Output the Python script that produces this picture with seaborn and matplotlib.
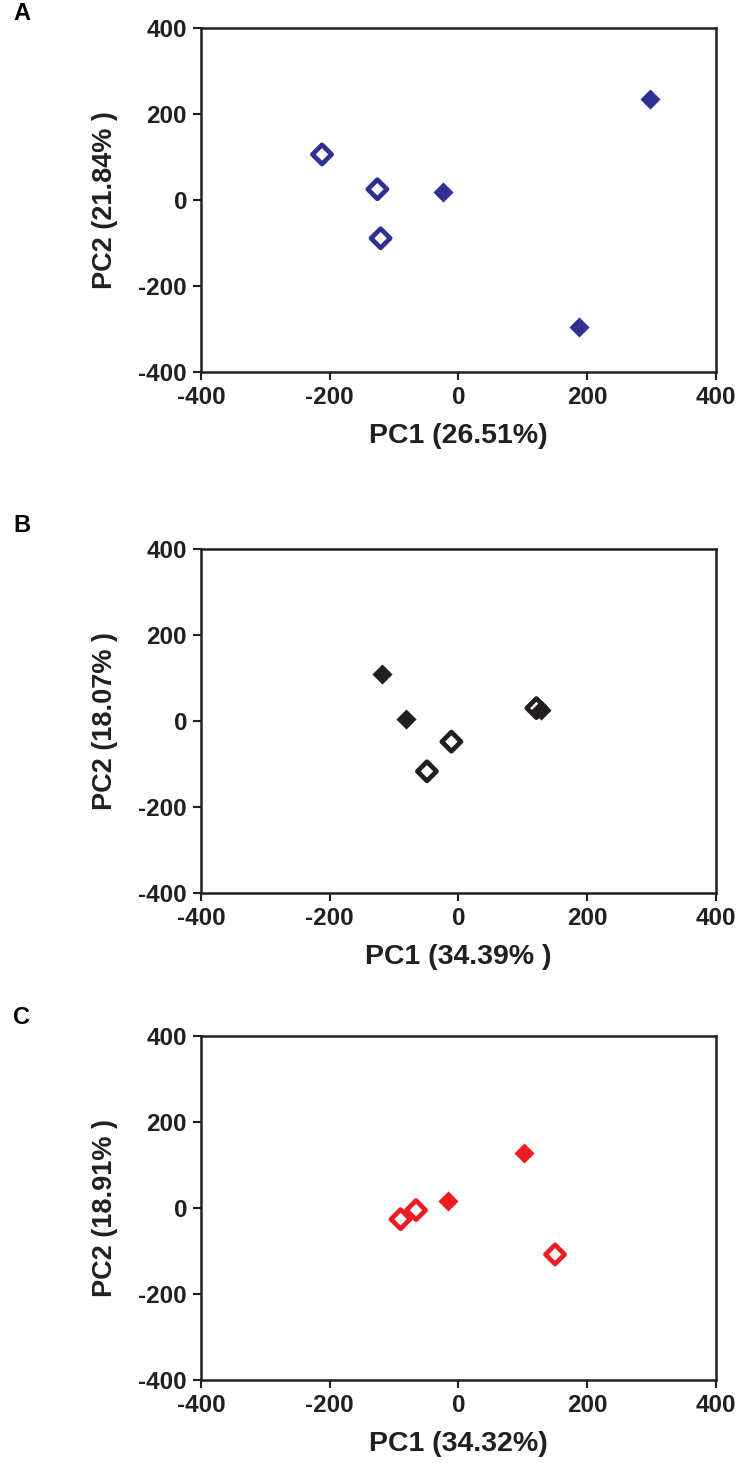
import matplotlib
matplotlib.use("Agg")
import matplotlib.pyplot as plt
import seaborn as sns
import pandas as pd

# panel A - blue
a_filled_pc1 = [-24, 298, 187]
a_filled_pc2 = [18, 236, -295]
a_open_pc1 = [-212, -126, -121]
a_open_pc2 = [106, 25, -89]

# panel B - black
b_filled_pc1 = [-119, -82, 128]
b_filled_pc2 = [109, 4, 26]
b_open_pc1 = [-11, -49, 121]
b_open_pc2 = [-48, -117, 30]

# panel C - red
c_filled_pc1 = [101, -17]
c_filled_pc2 = [128, 16]
c_open_pc1 = [-90, -66, 150]
c_open_pc2 = [-26, -5, -108]

panel_letters = ["A", "B", "C"]
xlabels = ["PC1 (26.51%)", "PC1 (34.39% )", "PC1 (34.32%)"]
ylabels = ["PC2 (21.84% )", "PC2 (18.07% )", "PC2 (18.91% )"]
colors = ["#2E3192", "#231F20", "#ED1C24"]
ticks = [-400, -200, 0, 200, 400]

sns.set_style("ticks")
plt.rcParams["font.family"] = ["Liberation Sans", "DejaVu Sans"]
plt.rcParams["font.weight"] = "bold"
plt.rcParams["axes.unicode_minus"] = False

ink = "#231F20"
W, H = 739, 1463
fig = plt.figure(figsize=(W / 100, H / 100), dpi=100)

panels = [
    (a_filled_pc1, a_filled_pc2, a_open_pc1, a_open_pc2),
    (b_filled_pc1, b_filled_pc2, b_open_pc1, b_open_pc2),
    (c_filled_pc1, c_filled_pc2, c_open_pc1, c_open_pc2),
]
tops = [28, 549, 1036]
letter_y = [14, 525, 1017]

for i, (fx, fy, ox, oy) in enumerate(panels):
    top = tops[i]
    ax = fig.add_axes([201 / W, 1 - (top + 344) / H, 515 / W, 344 / H])
    col = colors[i]
    df_open = pd.DataFrame({"PC1": ox, "PC2": oy})
    df_fill = pd.DataFrame({"PC1": fx, "PC2": fy})
    sns.scatterplot(data=df_open, x="PC1", y="PC2", ax=ax, marker="D", s=95,
                    facecolor="none", edgecolor=col, linewidth=3.4, zorder=3)
    sns.scatterplot(data=df_fill, x="PC1", y="PC2", ax=ax, marker="D", s=105,
                    color=col, linewidth=0, zorder=4)
    ax.set_xlim(-400, 400)
    ax.set_ylim(-400, 400)
    ax.set_xticks(ticks)
    ax.set_yticks(ticks)
    for sp in ax.spines.values():
        sp.set_linewidth(1.8)
        sp.set_color(ink)
    ax.tick_params(direction="out", length=6, width=1.5, color=ink,
                   labelsize=17.5, labelcolor=ink, pad=4)
    for lab in ax.get_xticklabels() + ax.get_yticklabels():
        lab.set_fontweight("bold")
    ax.set_xlabel(xlabels[i], fontsize=20.5, fontweight="bold", color=ink, labelpad=10)
    ax.set_ylabel(ylabels[i], fontsize=19.5, fontweight="bold", color=ink, labelpad=15)
    fig.text(13 / W, 1 - letter_y[i] / H, panel_letters[i], fontsize=17,
             fontweight="bold", color="black", va="center", ha="left")

fig.savefig("out.png", dpi=100)
